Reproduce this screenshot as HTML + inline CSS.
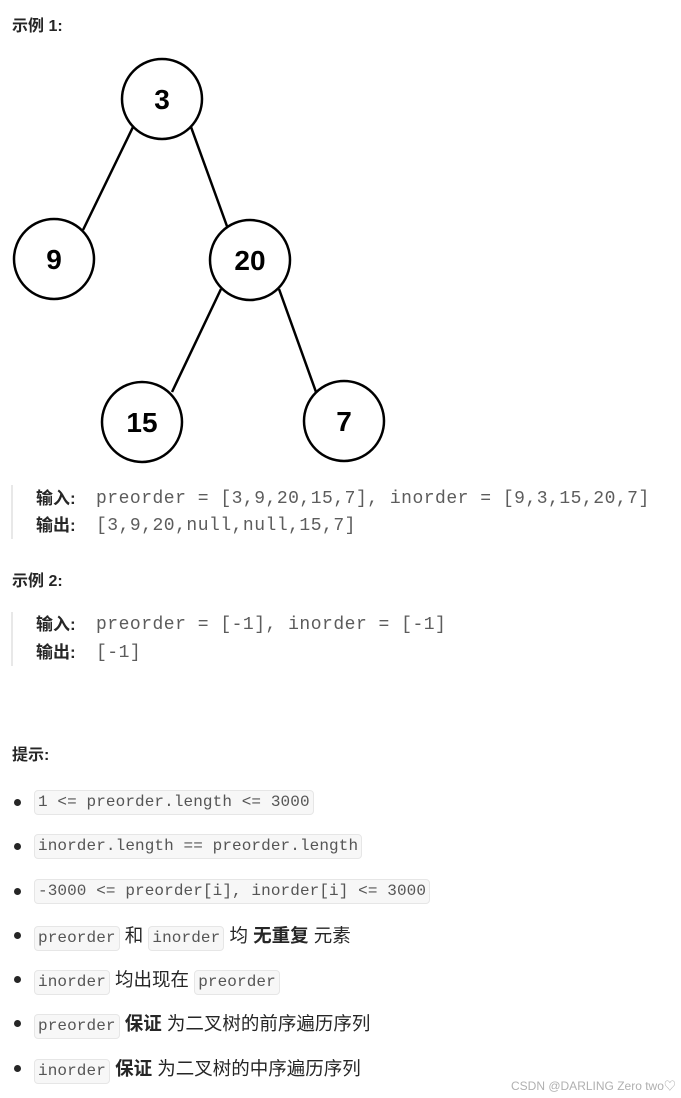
<!DOCTYPE html>
<html><head><meta charset="utf-8"><style>
body{margin:0;width:681px;height:1098px;background:#fff;position:relative;overflow:hidden;font-family:"Liberation Sans","Noto Sans CJK SC",sans-serif;color:#262626}
.a{position:absolute;white-space:nowrap}
.h{font-weight:bold;font-size:16px;color:#262626}
.q{position:absolute;left:11px;width:2px;background:#e8e8e8}
.l{font-size:17px;line-height:22px;font-weight:bold;color:#262626}
.m{position:absolute;font-family:"Liberation Mono","DejaVu Sans Mono",monospace;color:#5c5c5c;font-size:18px;letter-spacing:0.5px;line-height:22px;white-space:nowrap}
.dot{position:absolute;left:14px;width:7px;height:7px;border-radius:50%;background:#262626}
.c{font-family:"Liberation Mono","DejaVu Sans Mono",monospace;font-size:16px;letter-spacing:0.1px;color:#555;background:#f7f7f7;border:1px solid #e6e6e6;border-radius:4px;padding:2px 3px;display:inline-block;line-height:19px}
.li{position:absolute;left:34px;font-size:18.5px;white-space:nowrap;color:#262626}
</style></head><body>
<div class="a h" style="left:12px;top:12px">示例 1:</div>
<svg class="a" style="left:0;top:0" width="681" height="470">
<g stroke="#000" stroke-width="2.5" fill="none">
<line x1="133" y1="127" x2="83" y2="230"/>
<line x1="191" y1="127" x2="228" y2="229"/>
<line x1="221" y1="289" x2="172" y2="392"/>
<line x1="279" y1="289" x2="316" y2="392"/>
</g>
<g stroke="#000" stroke-width="2.5" fill="#fff">
<circle cx="162" cy="99" r="40"/><circle cx="54" cy="259" r="40"/><circle cx="250" cy="260" r="40"/>
<circle cx="142" cy="422" r="40"/><circle cx="344" cy="421" r="40"/>
</g>
<g font-family="Liberation Sans,sans-serif" font-weight="bold" font-size="28" text-anchor="middle" fill="#000">
<text x="162" y="109">3</text><text x="54" y="269">9</text><text x="250" y="270">20</text>
<text x="142" y="432">15</text><text x="344" y="431">7</text>
</g></svg>
<div class="q" style="top:485px;height:54px"></div>
<div class="a l" style="left:36px;top:488px">输入:</div><div class="m" style="left:96px;top:488px">preorder = [3,9,20,15,7], inorder = [9,3,15,20,7]</div>
<div class="a l" style="left:36px;top:515px">输出:</div><div class="m" style="left:96px;top:515px">[3,9,20,null,null,15,7]</div>
<div class="a h" style="left:12px;top:567px">示例 2:</div>
<div class="q" style="top:612px;height:54px"></div>
<div class="a l" style="left:36px;top:614px">输入:</div><div class="m" style="left:96px;top:614px">preorder = [-1], inorder = [-1]</div>
<div class="a l" style="left:36px;top:642px">输出:</div><div class="m" style="left:96px;top:642px">[-1]</div>
<div class="a h" style="left:12px;top:741px">提示:</div>
<div class="dot" style="top:799px"></div><div class="li" style="top:789px"><span class="c">1 &lt;= preorder.length &lt;= 3000</span></div>
<div class="dot" style="top:843px"></div><div class="li" style="top:833px"><span class="c">inorder.length == preorder.length</span></div>
<div class="dot" style="top:888px"></div><div class="li" style="top:878px"><span class="c">-3000 &lt;= preorder[i], inorder[i] &lt;= 3000</span></div>
<div class="dot" style="top:932px"></div><div class="li" style="top:922px"><span class="c">preorder</span> 和 <span class="c">inorder</span> 均 <b>无重复</b> 元素</div>
<div class="dot" style="top:976px"></div><div class="li" style="top:966px"><span class="c">inorder</span> 均出现在 <span class="c">preorder</span></div>
<div class="dot" style="top:1020px"></div><div class="li" style="top:1010px"><span class="c">preorder</span> <b>保证</b> 为二叉树的前序遍历序列</div>
<div class="dot" style="top:1065px"></div><div class="li" style="top:1055px"><span class="c">inorder</span> <b>保证</b> 为二叉树的中序遍历序列</div>
<div class="a" style="left:511px;top:1077px;font-size:12px;color:#b0b0b0">CSDN @DARLING Zero two♡</div>
</body></html>
